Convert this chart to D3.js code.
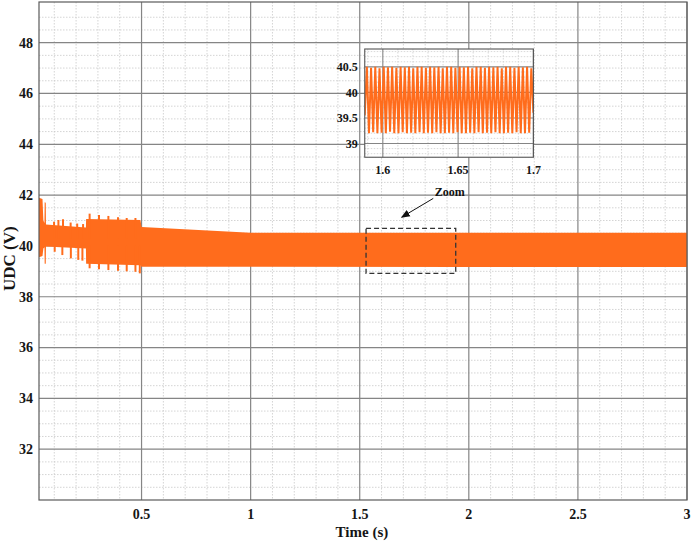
<!DOCTYPE html>
<html><head><meta charset="utf-8">
<script src="https://cdn.jsdelivr.net/npm/d3@7"></script>
<style>body{margin:0;background:#fff}svg{display:block}</style>
</head><body>
<svg id="c" width="692" height="543"></svg>
<script>
// ---------- data ----------
const xTicks = [0.5, 1, 1.5, 2, 2.5, 3];
const yTicks = [32, 34, 36, 38, 40, 42, 44, 46, 48];
const xDomain = [0.03, 3];
const yDomain = [30, 49.6];

// envelope of the DC-link voltage band (time s, upper V, lower V)
const envTime  = [0.030, 0.046, 0.050, 0.055, 0.056, 0.061, 0.062, 0.245, 0.246, 0.495, 0.500, 1.000, 2.000, 3.000];
const envUpper = [41.90, 41.85, 41.00, 40.90, 41.72, 41.70, 40.84, 40.72, 41.06, 41.02, 40.74, 40.52, 40.52, 40.52];
const envLower = [39.55, 39.60, 39.90, 39.95, 39.30, 39.30, 39.98, 39.90, 39.30, 39.24, 39.18, 39.18, 39.17, 39.17];

// transient spikes on the band edges
const topSpikeT = [0.099, 0.119, 0.140, 0.175, 0.205, 0.232, 0.262, 0.305, 0.348, 0.392, 0.432, 0.472];
const topSpikeV = [40.95, 41.02, 41.05, 40.92, 40.88, 40.86, 41.27, 41.22, 41.18, 41.13, 41.10, 41.10];
const botSpikeT = [0.102, 0.137, 0.176, 0.210, 0.229, 0.262, 0.305, 0.348, 0.392, 0.432, 0.472, 0.492];
const botSpikeV = [39.77, 39.64, 39.51, 39.45, 39.42, 39.12, 39.08, 39.05, 39.02, 39.00, 38.98, 38.92];

// zoomed window (inset)
const insetXTicks = [1.6, 1.65, 1.7];
const insetYTicks = [39, 39.5, 40, 40.5];
const insetXDomain = [1.588, 1.7];
const insetYDomain = [38.73, 40.85];
const insetStart = 1.588, insetStep = 0.0014;
const insetValues = [
  39.55, 40.50, 39.20, 40.48, 39.22, 40.50, 39.20, 40.47, 39.21, 40.50,
  39.20, 40.49, 39.23, 40.50, 39.20, 40.48, 39.20, 40.50, 39.22, 40.49,
  39.20, 40.50, 39.21, 40.47, 39.20, 40.50, 39.22, 40.50, 39.20, 40.48,
  39.21, 40.50, 39.20, 40.49, 39.22, 40.50, 39.20, 40.47, 39.20, 40.50,
  39.21, 40.50, 39.20, 40.48, 39.22, 40.50, 39.20, 40.49, 39.20, 40.50,
  39.21, 40.47, 39.20, 40.50, 39.22, 40.50, 39.20, 40.48, 39.21, 40.50,
  39.20, 40.49, 39.22, 40.50, 39.20, 40.47, 39.20, 40.50, 39.21, 40.50,
  39.20, 40.48, 39.22, 40.50, 39.20, 40.49, 39.20, 40.50, 39.21, 40.47,
  39.60];

// annotation placement in data units of the main axes
const insetBox = {t0: 1.523, t1: 2.296, v0: 43.49, v1: 47.75};
const zoomBox  = {t0: 1.529, t1: 1.940, v0: 38.92, v1: 40.69};
const arrow    = {t0: 1.837, v0: 41.87, t1: 1.692, v1: 41.13};
const zoomLabel = {t: 1.913, v: 41.97, text: "Zoom"};

// ---------- drawing ----------
const W = 692, H = 543;
const M = {l: 39, t: 2, r: 5, b: 43};
const iw = W - M.l - M.r, ih = H - M.t - M.b;
const orange = "#FF6C1C";
const font = "'Liberation Serif','Times New Roman',serif";
const ink = "#151515";

const svg = d3.select("#c");
const x = d3.scaleLinear().domain(xDomain).range([M.l, M.l + iw]);
const y = d3.scaleLinear().domain(yDomain).range([M.t + ih, M.t]);

svg.append("rect").attr("x", 0).attr("y", 0).attr("width", W).attr("height", H).attr("fill", "#fff");

// minor grid
const g = svg.append("g");
const xMinor = d3.range(1, 30).map(d => d / 10).filter(d => Math.abs(d * 2 - Math.round(d * 2)) > 1e-6);
const yMinor = d3.range(61, 99).map(d => d / 2).filter(d => d % 2 !== 0);
g.selectAll(".xm").data(xMinor).join("line")
  .attr("x1", d => x(d)).attr("x2", d => x(d)).attr("y1", M.t).attr("y2", M.t + ih)
  .attr("stroke", "#c9c9c9").attr("stroke-width", 0.8).attr("stroke-dasharray", "1.5,1.5");
g.selectAll(".ym").data(yMinor).join("line")
  .attr("y1", d => y(d)).attr("y2", d => y(d)).attr("x1", M.l).attr("x2", M.l + iw)
  .attr("stroke", "#c9c9c9").attr("stroke-width", 0.8).attr("stroke-dasharray", "1.5,1.5");
// major grid
g.selectAll(".xg").data(xTicks).join("line")
  .attr("x1", d => x(d)).attr("x2", d => x(d)).attr("y1", M.t).attr("y2", M.t + ih)
  .attr("stroke", "#858585").attr("stroke-width", 1.2);
g.selectAll(".yg").data(yTicks).join("line")
  .attr("y1", d => y(d)).attr("y2", d => y(d)).attr("x1", M.l).attr("x2", M.l + iw)
  .attr("stroke", "#858585").attr("stroke-width", 1.2);

// signal band
const env = envTime.map((t, i) => ({t, u: envUpper[i], l: envLower[i]}));
svg.append("path").datum(env)
  .attr("d", d3.area().x(d => x(d.t)).y0(d => y(d.l)).y1(d => y(d.u)))
  .attr("fill", orange);
svg.selectAll(".ts").data(topSpikeT).join("line")
  .attr("x1", d => x(d)).attr("x2", d => x(d))
  .attr("y1", y(40.3)).attr("y2", (d, i) => y(topSpikeV[i]))
  .attr("stroke", orange).attr("stroke-width", 2);
svg.selectAll(".bs").data(botSpikeT).join("line")
  .attr("x1", d => x(d)).attr("x2", d => x(d))
  .attr("y1", y(40.0)).attr("y2", (d, i) => y(botSpikeV[i]))
  .attr("stroke", orange).attr("stroke-width", 2);

// frame
svg.append("rect").attr("x", M.l).attr("y", M.t).attr("width", iw).attr("height", ih)
  .attr("fill", "none").attr("stroke", "#5a5a5a").attr("stroke-width", 1.2);

// tick labels
svg.selectAll(".xl").data(xTicks).join("text")
  .attr("x", d => x(d)).attr("y", 519).attr("text-anchor", "middle")
  .attr("font-family", font).attr("font-weight", "bold").attr("font-size", 14).attr("fill", ink)
  .text(d => d);
svg.selectAll(".yl").data(yTicks).join("text")
  .attr("x", M.l - 6).attr("y", d => y(d)).attr("dy", "0.35em").attr("text-anchor", "end")
  .attr("font-family", font).attr("font-weight", "bold").attr("font-size", 14).attr("fill", ink)
  .text(d => d);
svg.append("text").attr("x", x(1.51)).attr("y", 537).attr("text-anchor", "middle")
  .attr("font-family", font).attr("font-weight", "bold").attr("font-size", 15).attr("fill", ink)
  .text("Time (s)");
svg.append("text").attr("transform", `translate(15,${y(39.5)}) rotate(-90)`).attr("text-anchor", "middle")
  .attr("font-family", font).attr("font-weight", "bold").attr("font-size", 17).attr("fill", ink)
  .text("UDC (V)");

// zoom box, arrow, label
svg.append("rect").attr("x", x(zoomBox.t0)).attr("y", y(zoomBox.v1))
  .attr("width", x(zoomBox.t1) - x(zoomBox.t0)).attr("height", y(zoomBox.v0) - y(zoomBox.v1))
  .attr("fill", "none").attr("stroke", "#333").attr("stroke-width", 1.3).attr("stroke-dasharray", "5,3");
svg.append("defs").append("marker").attr("id", "ah").attr("viewBox", "0 0 10 10")
  .attr("refX", 9).attr("refY", 5).attr("markerWidth", 9).attr("markerHeight", 9)
  .attr("markerUnits", "userSpaceOnUse").attr("orient", "auto")
  .append("path").attr("d", "M0,1 L10,5 L0,9 Z").attr("fill", "#111");
svg.append("line").attr("x1", x(arrow.t0)).attr("y1", y(arrow.v0)).attr("x2", x(arrow.t1)).attr("y2", y(arrow.v1))
  .attr("stroke", "#111").attr("stroke-width", 1).attr("marker-end", "url(#ah)");
svg.append("text").attr("x", x(zoomLabel.t)).attr("y", y(zoomLabel.v)).attr("text-anchor", "middle")
  .attr("font-family", font).attr("font-weight", "bold").attr("font-size", 12).attr("fill", "#111")
  .text(zoomLabel.text);

// inset
const ix0 = x(insetBox.t0), ix1 = x(insetBox.t1), iy0 = y(insetBox.v1), iy1 = y(insetBox.v0);
const xi = d3.scaleLinear().domain(insetXDomain).range([ix0, ix1]);
const yi = d3.scaleLinear().domain(insetYDomain).range([iy1, iy0]);
const ig = svg.append("g");
ig.append("rect").attr("x", ix0).attr("y", iy0).attr("width", ix1 - ix0).attr("height", iy1 - iy0).attr("fill", "#fff");
ig.append("clipPath").attr("id", "ic").append("rect")
  .attr("x", ix0).attr("y", iy0).attr("width", ix1 - ix0).attr("height", iy1 - iy0);
const ixMinor = d3.range(159, 170).map(d => d / 100).filter(d => Math.abs(d * 20 - Math.round(d * 20)) > 1e-6);
const iyMinor = d3.range(388, 409).map(d => d / 10).filter(d => Math.abs(d * 2 - Math.round(d * 2)) > 1e-6);
ig.selectAll(".ixm").data(ixMinor).join("line")
  .attr("x1", d => xi(d)).attr("x2", d => xi(d)).attr("y1", iy0).attr("y2", iy1)
  .attr("stroke", "#cfcfcf").attr("stroke-width", 0.8).attr("stroke-dasharray", "1.5,1.5");
ig.selectAll(".iym").data(iyMinor).join("line")
  .attr("y1", d => yi(d)).attr("y2", d => yi(d)).attr("x1", ix0).attr("x2", ix1)
  .attr("stroke", "#cfcfcf").attr("stroke-width", 0.8).attr("stroke-dasharray", "1.5,1.5");
ig.selectAll(".ixg").data(insetXTicks).join("line")
  .attr("x1", d => xi(d)).attr("x2", d => xi(d)).attr("y1", iy0).attr("y2", iy1)
  .attr("stroke", "#858585").attr("stroke-width", 1.1);
ig.selectAll(".iyg").data(insetYTicks).join("line")
  .attr("y1", d => yi(d)).attr("y2", d => yi(d)).attr("x1", ix0).attr("x2", ix1)
  .attr("stroke", "#858585").attr("stroke-width", 1.1);
const insetPts = insetValues.map((v, i) => ({t: insetStart + i * insetStep, v}));
ig.append("path").datum(insetPts).attr("clip-path", "url(#ic)")
  .attr("d", d3.line().x(d => xi(d.t)).y(d => yi(d.v)))
  .attr("fill", "none").attr("stroke", orange).attr("stroke-width", 2).attr("stroke-linejoin", "bevel");
ig.append("rect").attr("x", ix0).attr("y", iy0).attr("width", ix1 - ix0).attr("height", iy1 - iy0)
  .attr("fill", "none").attr("stroke", "#555").attr("stroke-width", 1.1);
ig.selectAll(".ixl").data(insetXTicks).join("text")
  .attr("x", d => xi(d)).attr("y", iy1 + 17).attr("text-anchor", "middle")
  .attr("font-family", font).attr("font-weight", "bold").attr("font-size", 12).attr("fill", ink)
  .text(d => d);
ig.selectAll(".iyl").data(insetYTicks).join("text")
  .attr("x", ix0 - 7).attr("y", d => yi(d)).attr("dy", "0.35em").attr("text-anchor", "end")
  .attr("font-family", font).attr("font-weight", "bold").attr("font-size", 12).attr("fill", ink)
  .text(d => d);
</script>
</body></html>
